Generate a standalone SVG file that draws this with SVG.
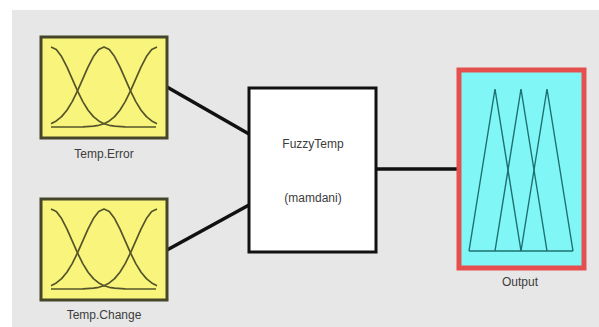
<svg xmlns="http://www.w3.org/2000/svg" width="599" height="327" viewBox="0 0 599 327">
<style>
.lbl{font-family:"Liberation Sans",Arial,sans-serif;font-size:12px;fill:#3c3c3c;text-anchor:middle}
.inbox{fill:#f9f57c;stroke:#45452a;stroke-width:3}
.mf{fill:none;stroke:#55552a;stroke-width:1.7;stroke-linejoin:round}
.conn{stroke:#111;stroke-width:3.5;fill:none}
.tri{fill:none;stroke:#1f7070;stroke-width:1.4}
</style>
<defs>
<g id="gauss">
<path class="mf" d="M51,47 L56.3,49.5 61.6,56.6 66.9,66.9 72.2,78.9 77.5,90.9 82.8,101.6 88.1,110.2 93.4,116.6 98.7,120.9 104,123.7 109.3,125.3 114.6,126.2 125,126.8 156,127"/>
<path class="mf" d="M51,123.7 L56.3,120.9 61.6,116.6 66.9,110.2 72.2,101.6 77.5,90.9 82.8,78.9 88.1,66.9 93.4,56.6 98.7,49.5 104,47 109.3,49.5 114.6,56.6 119.9,66.9 125.2,78.9 130.5,90.9 135.8,101.6 141.1,110.2 146.4,116.6 151.7,120.9 157,123.7"/>
<path class="mf" d="M157,47 L151.7,49.5 146.4,56.6 141.1,66.9 135.8,78.9 130.5,90.9 125.2,101.6 119.9,110.2 114.6,116.6 109.3,120.9 104,123.7 98.7,125.3 93.4,126.2 83,126.8 51,127"/>
</g>
</defs>
<rect x="0" y="0" width="599" height="327" fill="#ffffff"/>
<rect x="12" y="10" width="587" height="317" fill="#e7e7e7"/>
<g id="connectors">
<line class="conn" x1="167" y1="87" x2="249" y2="134"/>
<line class="conn" x1="167" y1="250" x2="249" y2="205"/>
<line class="conn" x1="376" y1="169" x2="458" y2="169"/>
</g>
<g id="temp-error">
<rect class="inbox" x="41" y="37" width="126" height="101"/>
<use href="#gauss"/>
<text class="lbl" x="104" y="158">Temp.Error</text>
</g>
<g id="temp-change">
<rect class="inbox" x="41" y="199" width="126" height="101"/>
<use href="#gauss" transform="translate(0,162)"/>
<text class="lbl" x="104" y="319">Temp.Change</text>
</g>
<g id="fuzzytemp">
<rect x="249" y="88" width="127" height="164" fill="#ffffff" stroke="#111" stroke-width="3"/>
<text class="lbl" x="313" y="148">FuzzyTemp</text>
<text class="lbl" x="313" y="202">(mamdani)</text>
</g>
<g id="output">
<rect x="459" y="70" width="125" height="198" fill="#80f6f6" stroke="#e5504e" stroke-width="5"/>
<polyline class="tri" points="469,251 495,89 521,251"/>
<polyline class="tri" points="495,251 521,89 547,251"/>
<polyline class="tri" points="521,251 547,89 573,251"/>
<line class="tri" x1="469" y1="251" x2="573" y2="251"/>
<text class="lbl" x="520" y="286">Output</text>
</g>
</svg>
